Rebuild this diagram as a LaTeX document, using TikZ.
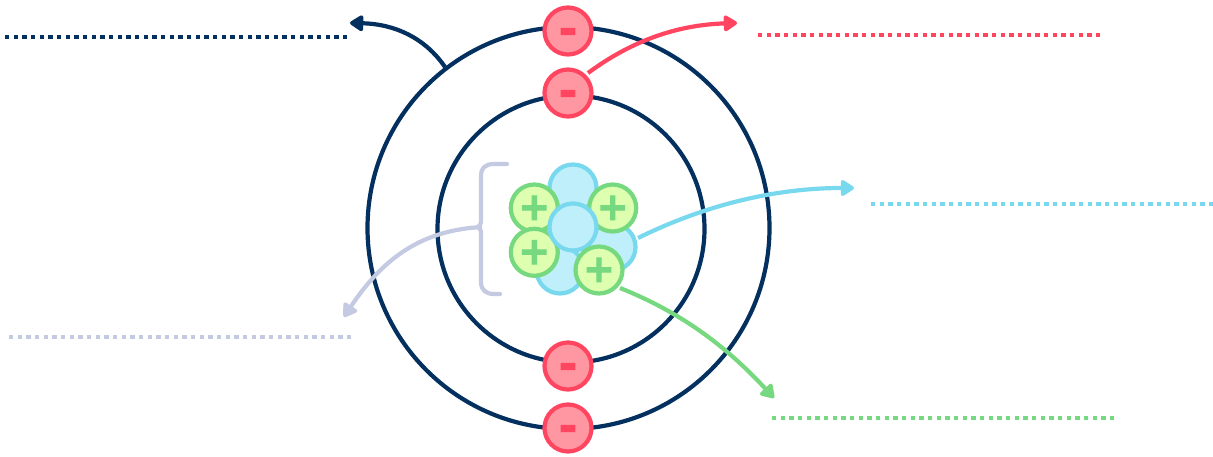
\documentclass[tikz,border=0pt]{standalone}
\usepackage{fontspec}
\newfontfamily\signfont[FakeBold=2.6]{DejaVu Sans}
\newfontfamily\minusfont[FakeBold=1.8]{Liberation Sans}
\usetikzlibrary{arrows.meta}
\definecolor{navy}{HTML}{03305F}
\definecolor{redl}{HTML}{FF4560}
\definecolor{redf}{HTML}{FF97A3}
\definecolor{cyanl}{HTML}{78D8EE}
\definecolor{cyanf}{HTML}{BEEFFA}
\definecolor{greenl}{HTML}{76D97F}
\definecolor{greenf}{HTML}{DDFFAF}
\definecolor{lav}{HTML}{C5CAE3}
\tikzset{
  orbit/.style={draw=navy,line width=4.2pt},
  electron/.style={circle,draw=redl,fill=redf,line width=4.2pt,minimum size=47pt,inner sep=0pt},
  neutron/.style={circle,draw=cyanl,fill=cyanf,line width=4.2pt,minimum size=47pt,inner sep=0pt},
  proton/.style={circle,draw=greenl,fill=greenf,line width=4.2pt,minimum size=47pt,inner sep=0pt},
  minussign/.style={font=\minusfont\bfseries\fontsize{54}{54}\selectfont,text=redl,inner sep=0pt,anchor=base,yshift=-14.5pt},
  plussign/.style={font=\signfont\bfseries\fontsize{38}{38}\selectfont,text=greenl,inner sep=0pt,anchor=base,yshift=-11.8pt},
  leader/.style={line width=4.2pt,-{Triangle[length=15pt,width=18pt,round]}},
  blank/.style={line width=4.3pt,dash pattern=on 4.3pt off 4.37pt},
}
\begin{document}
\begin{tikzpicture}[x=1pt,y=-1pt]
\useasboundingbox (0,0) rectangle (1213,457);
\node[circle,orbit,minimum size=402pt,inner sep=0pt] (outer) at (568.5,228) {};
\node[circle,orbit,minimum size=267pt,inner sep=0pt] (inner) at (571,229) {};
\node[electron] (e1) at (568,31) {};
\node[electron] (e2) at (568,93) {};
\node[electron] (e3) at (568,366) {};
\node[electron] (e4) at (568,428) {};
\foreach \e in {e1,e2,e3,e4}{\node[minussign] at (\e) {-};}
\node[neutron] (n1) at (573,188) {};
\node[neutron] (n2) at (612,247) {};
\node[neutron] (n3) at (560,270) {};
\node[proton] (p1) at (534.3,208) {};
\node[proton] (p2) at (612.7,208) {};
\node[proton] (p3) at (534.3,252.3) {};
\node[neutron] (n4) at (573,227) {};
\node[proton] (p4) at (599,270) {};
\foreach \p in {p1,p2,p3,p4}{\node[plussign] at (\p) {+};}
% brace
\coordinate (tip) at (482,227);
\draw[lav,line width=4.2pt,line cap=round,line join=round] (507,164) -- (494,164) .. controls (485,164) and (481,168) .. (481,176) -- (481,220) .. controls (481,224) and (480,226) .. (478,227) .. controls (480,228) and (481,230) .. (481,234) -- (481,282) .. controls (481,290) and (486,294) .. (494,294) -- (500,294);
% arrows
\coordinate (orbitpt) at (445,67);
\coordinate (navyend) at (350,23);
\coordinate (redend) at (737,23);
\coordinate (cyanend) at (854,188);
\coordinate (greenend) at (774,398);
\coordinate (lavend) at (344,317);
\draw[leader,navy] (orbitpt) .. controls (425,38) and (395,24) .. (navyend);
\draw[leader,redl] (588,73) .. controls (630,42) and (675,25) .. (redend);
\draw[leader,cyanl] (638,238) .. controls (705,205) and (775,188) .. (cyanend);
\draw[leader,greenl] (620,288) .. controls (680,312) and (725,345) .. (greenend);
\draw[leader,lav] (tip) .. controls (425,230) and (385,255) .. (lavend);
% blanks
\coordinate (a1) at (5,37); \coordinate (a2) at (347,37);
\coordinate (b1) at (758,35); \coordinate (b2) at (1100,35);
\coordinate (c1) at (871,204); \coordinate (c2) at (1213,204);
\coordinate (d1) at (9,337); \coordinate (d2) at (351,337);
\coordinate (f1) at (772,418); \coordinate (f2) at (1114,418);
\draw[blank,navy] (a1) -- (a2);
\draw[blank,redl] (b1) -- (b2);
\draw[blank,cyanl] (c1) -- (c2);
\draw[blank,lav] (d1) -- (d2);
\draw[blank,greenl] (f1) -- (f2);
\end{tikzpicture}
\end{document}
